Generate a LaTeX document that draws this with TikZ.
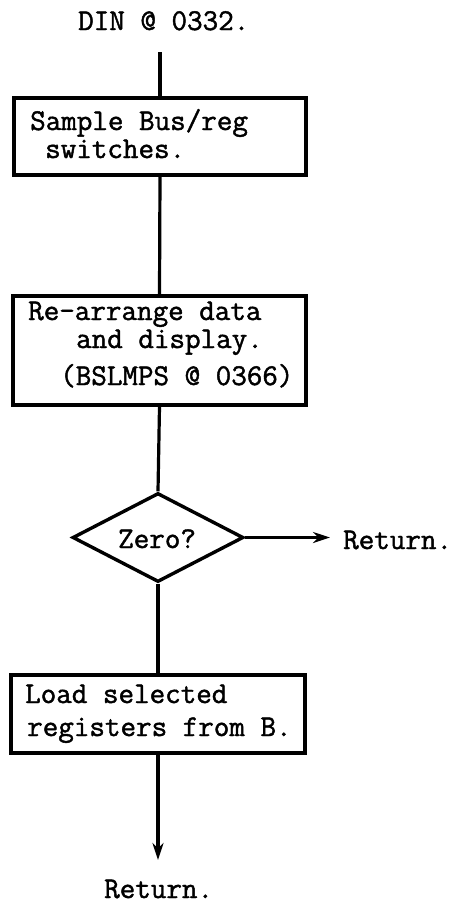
\documentclass[tikz,border=0pt]{standalone}
\usepackage{fontspec}
\setmonofont[FakeBold=1.5]{Latin Modern Mono}
\usetikzlibrary{shapes.geometric,arrows.meta}
\begin{document}
\begin{tikzpicture}[x=1pt,y=-1pt,
  every node/.style={font=\ttfamily\fontsize{30.2}{32}\selectfont},
  box/.style={draw,line width=3.2pt,rectangle,inner sep=0pt},
  txt/.style={anchor=base west,inner sep=0pt},
  conn/.style={line width=3.2pt},
  arr/.style={line width=3.2pt,-{Stealth[length=17pt,width=11pt]}}]
\useasboundingbox (0,0) rectangle (460,906);
% boxes
\node[box,minimum width=292pt,minimum height=77pt] (b1) at (160,136.5) {};
\node[box,minimum width=293pt,minimum height=109pt] (b2) at (159.5,350.5) {};
\node[draw,line width=3.4pt,diamond,inner sep=0pt,minimum width=171pt,minimum height=89pt,shape aspect=1.92] (d) at (158,537.5) {};
\node[box,minimum width=294pt,minimum height=78pt] (b3) at (158,714) {};
% texts
\node[txt] (din) at (78,30) {DIN @ 0332.};
\node[txt] (t1a) at (30,130) {Sample Bus/reg};
\node[txt] (t1b) at (45,158) {switches.};
\node[txt] (t2a) at (28,320) {Re-arrange data};
\node[txt] (t2b) at (76,348) {and display.};
\node[txt] (t2c) at (60,385) {(BSLMPS @ 0366)};
\node[txt] (zt) at (118,548) {Zero?};
\node[txt] (t3a) at (25,703) {Load selected};
\node[txt] (t3b) at (27,736) {registers from B.};
\node[txt] (r1) at (343,549) {Return.};
\node[txt] (r2) at (104,898) {Return.};
% connectors
\coordinate (top) at (160,52);
\coordinate (e1) at (330,537.5);
\coordinate (e2) at (158,860);
\draw[conn] (top) -- (b1.north);
\draw[conn] (b1.south) -- (b2.north);
\draw[conn] (b2.south) -- (d.north);
\draw[conn] (d.south) -- (b3.north);
\draw[arr] (d.east) -- (e1);
\draw[arr] (b3.south) -- (e2);
\end{tikzpicture}
\end{document}
